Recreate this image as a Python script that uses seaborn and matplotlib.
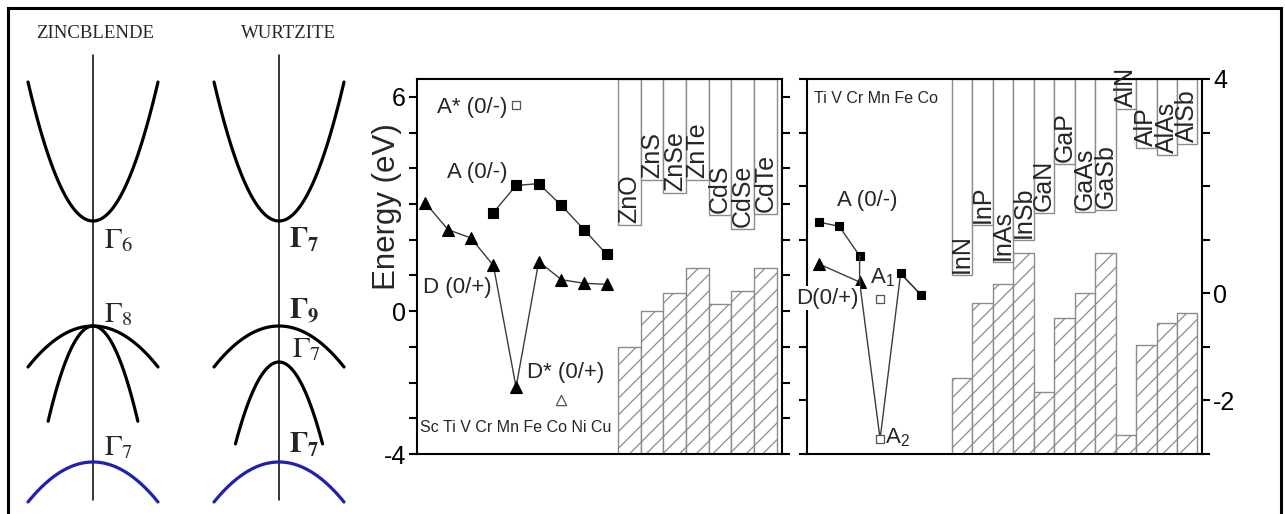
import numpy as np
import matplotlib

matplotlib.use("Agg")
import matplotlib.pyplot as plt
import seaborn as sns
from matplotlib.patches import Rectangle

# ---- schematic band structures (apex energy, curvature, k extent) ----
ZB_APEX = [2.1, 0.0, 0.0, -2.72]
ZB_CURV = [2.78, -0.82, -4.0, -0.8]
ZB_KMAX = [1.0, 1.0, 0.69, 1.0]
WZ_APEX = [2.1, 0.0, -0.72, -2.72]
WZ_CURV = [2.78, -0.82, -3.65, -0.8]
WZ_KMAX = [1.0, 1.0, 0.67, 1.0]
BAND_COLORS = ["black", "black", "black", "#1f1fb0"]
ZB_GAMMA = [r"$\Gamma_6$", r"$\Gamma_8$", r"$\Gamma_7$"]
WZ_GAMMA = [r"$\mathbf{\Gamma_7}$", r"$\mathbf{\Gamma_9}$", r"$\Gamma_7$", r"$\mathbf{\Gamma_7}$"]

# ---- II-VI hosts ----
IIVI_HOSTS = ["ZnO", "ZnS", "ZnSe", "ZnTe", "CdS", "CdSe", "CdTe"]
IIVI_VBM = [-1.0, 0.0, 0.5, 1.21, 0.21, 0.56, 1.21]
IIVI_CBM = [2.40, 3.66, 3.31, 3.66, 2.70, 2.29, 2.73]
IIVI_TM = ["Sc", "Ti", "V", "Cr", "Mn", "Fe", "Co", "Ni", "Cu"]
IIVI_DONOR = [3.03, 2.28, 2.05, 1.28, -2.13, 1.39, 0.88, 0.78, 0.75]
IIVI_ACC_TM = ["Cr", "Mn", "Fe", "Co", "Ni", "Cu"]
IIVI_ACC = [2.76, 3.52, 3.57, 2.96, 2.28, 1.59]
IIVI_ASTAR_TM, IIVI_ASTAR = "Mn", 5.76
IIVI_DSTAR_TM, IIVI_DSTAR = "Co", -2.48

# ---- III-V hosts ----
IIIV_HOSTS = ["InN", "InP", "InAs", "InSb", "GaN", "GaP", "GaAs", "GaSb",
              "AlN", "AlP", "AlAs", "AlSb"]
IIIV_VBM = [-1.59, -0.18, 0.18, 0.76, -1.84, -0.46, 0.0, 0.76, -2.65, -0.96, -0.55, -0.36]
IIIV_CBM = [0.34, 1.27, 0.59, 1.00, 1.50, 2.42, 1.52, 1.56, 3.44, 2.71, 2.58, 2.78]
IIIV_TM = ["Ti", "V", "Cr", "Mn", "Fe", "Co"]
IIIV_ACC_TM = ["Ti", "V", "Cr"]
IIIV_ACC = [1.33, 1.25, 0.70]
IIIV_ACC2_TM = ["Fe", "Co"]
IIIV_ACC2 = [0.37, -0.03]
IIIV_DONOR_TM = ["Ti", "Cr"]
IIIV_DONOR = [0.55, 0.21]
IIIV_A_TM = "Mn"
IIIV_A1, IIIV_A2 = -0.11, -2.72

W, H = 1285, 514
LINE = "#3c3c3c"
EDGE = "#8c8c8c"

sns.set_style("ticks")
plt.rcParams.update({
    "font.family": ["Liberation Sans", "DejaVu Sans"],
    "mathtext.fontset": "custom",
    "mathtext.rm": "Liberation Sans",
    "mathtext.it": "Liberation Sans:italic",
    "mathtext.bf": "Liberation Sans:bold",
    "axes.edgecolor": "black",
    "axes.linewidth": 1.5,
    "xtick.color": "black",
    "ytick.color": "black",
    "ytick.major.size": 6,
    "ytick.major.width": 1.5,
    "ytick.direction": "out",
    "hatch.linewidth": 0.9,
})

fig = plt.figure(figsize=(W / 100, H / 100), dpi=100)


def px_axes(left, top, right, bottom):
    return fig.add_axes([left / W, 1 - bottom / H, (right - left) / W, (bottom - top) / H])


def draw_bands(ax, apex, curv, kmax, title, title_x, gammas, gamma_pos):
    ax.set_xlim(-1.15, 1.15)
    ax.set_ylim(-3.68, 6.12)
    ax.axis("off")
    sns.lineplot(x=[0, 0], y=[5.42, -3.48], ax=ax, color="black", linewidth=1.1,
                 estimator=None, sort=False)
    for e0, c, km, col in zip(apex, curv, kmax, BAND_COLORS):
        k = np.linspace(-km, km, 121)
        sns.lineplot(x=k, y=e0 + c * k ** 2, ax=ax, color=col, linewidth=2.3,
                     estimator=None, sort=False)
    ax.text(title_x, 5.86, title, ha="center", va="center", fontsize=13.5,
            family="Liberation Serif")
    for lab, (gx, gy) in zip(gammas, gamma_pos):
        ax.text(gx, gy, lab, ha="left", va="center", fontsize=21, math_fontfamily="stix")


ax_zb = px_axes(18.25, 20, 167.75, 510)
draw_bands(ax_zb, ZB_APEX, ZB_CURV, ZB_KMAX, "ZINCBLENDE", 0.03, ZB_GAMMA,
           [(0.17, 1.72), (0.17, 0.24), (0.17, -2.42)])
ax_wz = px_axes(204.25, 20, 353.75, 510)
draw_bands(ax_wz, WZ_APEX, WZ_CURV, WZ_KMAX, "WURTZITE", 0.14, WZ_GAMMA,
           [(0.16, 1.72), (0.16, 0.3), (0.2, -0.46), (0.16, -2.38)])


def host_bars(ax, hosts, vbm, cbm, ymin, ymax, fs):
    pos = np.arange(len(hosts), dtype=float)
    vbm = np.asarray(vbm)
    cbm = np.asarray(cbm)
    sns.barplot(x=pos, y=vbm - ymin, bottom=ymin, native_scale=True, width=1.0,
                color="white", saturation=1, edgecolor=EDGE, linewidth=1,
                hatch="//", errorbar=None, ax=ax)
    sns.barplot(x=pos, y=ymax - cbm, bottom=cbm, native_scale=True, width=1.0,
                color="white", saturation=1, edgecolor=EDGE, linewidth=1,
                errorbar=None, ax=ax)
    for x, c, name in zip(pos, cbm, hosts):
        ax.annotate(name, xy=(x, c), xytext=(0, 1.5), textcoords="offset points",
                    rotation=90, ha="center", va="bottom", fontsize=fs,
                    annotation_clip=False, zorder=4)


def tm_x(names, order, start):
    return [order.index(n) + start for n in names]


def tm_line(ax, xs, ys, marker, ms, markers=True):
    kw = dict(marker=marker, markersize=ms, markerfacecolor="black",
              markeredgecolor="black", markeredgewidth=0.8) if markers else {}
    sns.lineplot(x=xs, y=ys, ax=ax, color=LINE, linewidth=1.0, estimator=None,
                 sort=False, zorder=3, **kw)


def open_marker(ax, xs, ys, marker, s):
    sns.scatterplot(x=xs, y=ys, ax=ax, marker=marker, s=s, color="white",
                    edgecolor="#555555", linewidth=0.9, zorder=4)


# ---- middle panel: II-VI ----
ax_m = px_axes(417, 79, 782, 454)
Y1 = (-4, 6.5)
host_bars(ax_m, IIVI_HOSTS, IIVI_VBM, IIVI_CBM, Y1[0], Y1[1], 18)
S1 = -len(IIVI_TM)
tm_line(ax_m, tm_x(IIVI_TM, IIVI_TM, S1), IIVI_DONOR, "^", 8.5)
tm_line(ax_m, tm_x(IIVI_ACC_TM, IIVI_TM, S1), IIVI_ACC, "s", 6.5)
open_marker(ax_m, tm_x([IIVI_ASTAR_TM], IIVI_TM, S1), [IIVI_ASTAR], "s", 30)
open_marker(ax_m, tm_x([IIVI_DSTAR_TM], IIVI_TM, S1), [IIVI_DSTAR], "^", 55)
ax_m.text(-5.4, 5.71, "A* (0/-)", ha="right", va="center", fontsize=16)
ax_m.text(-5.4, 3.87, "A (0/-)", ha="right", va="center", fontsize=16)
ax_m.text(-9.1, 0.67, "D (0/+)", ha="left", va="center", fontsize=16)
ax_m.text(-4.52, -1.71, "D* (0/+)", ha="left", va="center", fontsize=16)
ax_m.text(np.mean(tm_x(IIVI_TM, IIVI_TM, S1)), -3.25, " ".join(IIVI_TM),
          ha="center", va="center", fontsize=11.5)
ax_m.set_xlim(-9.37, 6.73)
ax_m.set_ylim(*Y1)
ax_m.set_xticks([])
yt = list(range(-4, 7))
ax_m.set_yticks(yt)
ax_m.set_yticklabels([str(v) if v in (-4, 0, 6) else "" for v in yt], fontsize=18)
ax_m.tick_params(axis="y", right=True, labelright=False, pad=2)
ax_m.set_ylabel("Energy (eV)", fontsize=22.5)
ax_m.yaxis.set_label_coords(-0.04, 0.66)
ax_m.set_xlabel("")

# ---- right panel: III-V ----
ax_r = px_axes(807, 79, 1202, 454)
Y2 = (-3, 4)
host_bars(ax_r, IIIV_HOSTS, IIIV_VBM, IIIV_CBM, Y2[0], Y2[1], 18)
S2 = -len(IIIV_TM) - 1
tm_line(ax_r, tm_x(IIIV_ACC_TM, IIIV_TM, S2), IIIV_ACC, "s", 6)
tm_line(ax_r, tm_x(IIIV_DONOR_TM, IIIV_TM, S2), IIIV_DONOR, "^", 8)
path_tm = ["Cr", "Cr", IIIV_A_TM] + IIIV_ACC2_TM
path_e = [IIIV_ACC[-1], IIIV_DONOR[-1], IIIV_A2] + IIIV_ACC2
tm_line(ax_r, tm_x(path_tm, IIIV_TM, S2), path_e, None, 0, markers=False)
tm_line(ax_r, tm_x(IIIV_ACC2_TM, IIIV_TM, S2), IIIV_ACC2, "s", 6)
open_marker(ax_r, tm_x([IIIV_A_TM] * 2, IIIV_TM, S2), [IIIV_A1, IIIV_A2], "s", 30)
ax_r.text(np.mean(tm_x(IIIV_TM, IIIV_TM, S2)) + 0.3, 3.64, " ".join(IIIV_TM),
          ha="center", va="center", fontsize=11.5)
ax_r.text(-6.1, 1.74, "A (0/-)", ha="left", va="center", fontsize=16)
ax_r.text(-8.1, -0.09, "D(0/+)", ha="left", va="center", fontsize=16, zorder=6,
          clip_on=False, bbox=dict(facecolor="white", edgecolor="none", pad=1))
ax_r.text(-4.49, 0.3, "A$_1$", ha="left", va="center", fontsize=16)
ax_r.text(-3.76, -2.69, "A$_2$", ha="left", va="center", fontsize=16)
ax_r.set_xlim(-7.57, 11.72)
ax_r.set_ylim(*Y2)
ax_r.set_xticks([])
yt2 = list(range(-3, 5))
ax_r.set_yticks(yt2)
ax_r.set_yticklabels([str(v) if v in (-2, 0, 4) else "" for v in yt2], fontsize=18)
ax_r.tick_params(axis="y", left=True, right=True, labelleft=False, labelright=True, pad=2)
ax_r.set_xlabel("")
ax_r.set_ylabel("")

fig.add_artist(Rectangle((8 / W, -0.05), (1281 - 8) / W, 1 - 8 / H + 0.05,
                         transform=fig.transFigure, fill=False, lw=2.2,
                         edgecolor="black"))

fig.savefig("out.png", dpi=100)
